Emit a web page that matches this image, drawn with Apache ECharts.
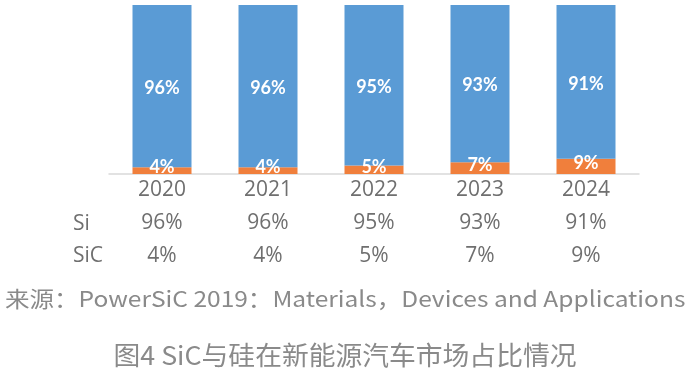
<!DOCTYPE html>
<html><head><meta charset="utf-8">
<script src="https://cdn.jsdelivr.net/npm/echarts@6/dist/echarts.min.js"></script>
<style>html,body{margin:0;padding:0;background:#fff}#c{width:689px;height:372px}</style>
</head><body><div id="c"></div>
<script>
const years = ['2020', '2021', '2022', '2023', '2024'];
const si = [96, 96, 95, 93, 91];
const sic = [4, 4, 5, 7, 9];
const rowNames = ['Si', 'SiC'];
const sourceText = '来源：PowerSiC 2019：Materials，Devices and Applications';
const captionText = '图4 SiC与硅在新能源汽车市场占比情况';

const chart = echarts.init(document.getElementById('c'), null, {renderer: 'canvas'});
const tableFont = 'Open Sans';
const tableColor = '#6f6f6f';
const barLabel = {
  show: true, formatter: '{c}%', color: '#fff', fontWeight: 'bold',
  fontSize: 18, fontFamily: 'Lato'
};
chart.setOption({
  animation: false,
  grid: {left: 109, right: 50, top: 5, bottom: 198},
  xAxis: {
    type: 'category', data: years,
    axisLine: {lineStyle: {color: '#d9d9d9', width: 1.5}},
    axisTick: {show: false},
    axisLabel: {
      margin: 0, interval: 0,
      formatter: (v, i) => v + '\n' + si[i] + '%\n' + sic[i] + '%',
      lineHeight: 33, fontSize: 21, color: tableColor, fontFamily: tableFont
    }
  },
  yAxis: {type: 'value', min: 0, max: 100, show: false},
  series: [
    {type: 'bar', name: rowNames[1], stack: 'a', data: sic, barWidth: 59,
     itemStyle: {color: '#F07F3C'}, label: Object.assign({}, barLabel, {offset: [0, -3]})},
    {type: 'bar', name: rowNames[0], stack: 'a', data: si, barWidth: 59,
     itemStyle: {color: '#5A9BD5'}, label: Object.assign({}, barLabel, {offset: [0, 2]})}
  ],
  graphic: [
    {type: 'text', x: 73, y: 224, style: {text: rowNames[0], fontSize: 21, fill: tableColor, fontFamily: tableFont, verticalAlign: 'middle'}},
    {type: 'text', x: 73, y: 256, style: {text: rowNames[1], fontSize: 21, fill: tableColor, fontFamily: tableFont, verticalAlign: 'middle'}},
    {type: 'text', x: 5, y: 299, scaleX: 1.115, style: {text: sourceText, fontSize: 22, fill: '#8a8a8a', fontFamily: 'Noto Sans CJK SC', verticalAlign: 'middle'}},
    {type: 'text', x: 345, y: 355, scaleX: 1.03, style: {text: captionText, fontSize: 26, fill: '#8a8a8a', fontFamily: 'Noto Sans CJK SC', align: 'center', verticalAlign: 'middle'}}
  ]
});
</script></body></html>
